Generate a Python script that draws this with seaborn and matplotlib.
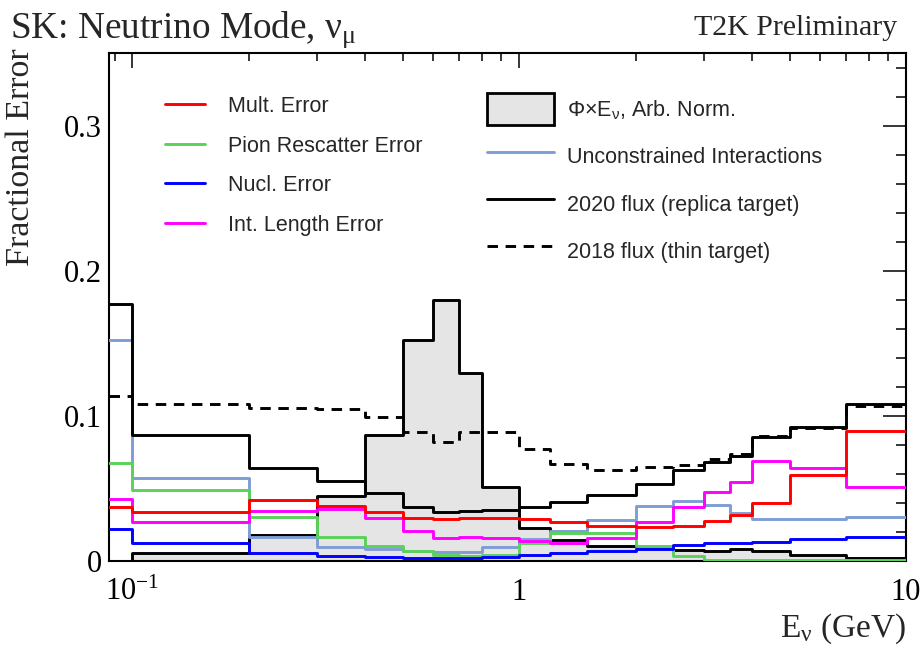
import numpy as np
import matplotlib
matplotlib.use("Agg")
import matplotlib.pyplot as plt
import seaborn as sns
from matplotlib.lines import Line2D
from matplotlib.patches import Patch
from matplotlib.ticker import FixedLocator, FixedFormatter, NullFormatter

# Energy binning (GeV); the first bin starts at 0
bin_edges = [0.0, 0.1, 0.2, 0.3, 0.4, 0.5, 0.6, 0.7, 0.8, 1.0, 1.2, 1.5,
             2.0, 2.5, 3.0, 3.5, 4.0, 5.0, 7.0, 10.0]

# Flux shape (Phi x E_nu, arbitrary normalisation)
flux_shape = [0.0, 0.0053, 0.018, 0.045, 0.0866, 0.152, 0.18, 0.1294, 0.0507,
              0.0228, 0.0145, 0.0102, 0.0095, 0.0073, 0.0071, 0.0081, 0.0071,
              0.0041, 0.0018]

# Fractional errors per bin
mult_err = [0.037, 0.0336, 0.0418, 0.038, 0.0336, 0.0294, 0.029, 0.0294, 0.0294,
            0.0288, 0.0271, 0.0241, 0.0232, 0.0244, 0.0274, 0.0317, 0.0402,
            0.0593, 0.0899]
pion_err = [0.0678, 0.0487, 0.0301, 0.0168, 0.0103, 0.0071, 0.0041, 0.0034, 0.004,
            0.0126, 0.0195, 0.0195, 0.0106, 0.0034, 0.0006, 0.0005, 0.0005,
            0.0005, 0.0005]
nucl_err = [0.0221, 0.0126, 0.0053, 0.0037, 0.003, 0.0023, 0.0018, 0.0023, 0.0027,
            0.0041, 0.0053, 0.0069, 0.0081, 0.011, 0.0124, 0.0126, 0.0129,
            0.015, 0.0168]
intlen_err = [0.0428, 0.0269, 0.0345, 0.0359, 0.0299, 0.0209, 0.0159, 0.0168, 0.016,
              0.0138, 0.0126, 0.0156, 0.0271, 0.037, 0.0474, 0.0547, 0.069,
              0.0639, 0.0508]
unconstr_err = [0.152, 0.057, 0.0168, 0.0096, 0.0085, 0.0068, 0.0064, 0.0064, 0.0094,
                0.0152, 0.0207, 0.0283, 0.0379, 0.041, 0.0386, 0.0333, 0.029,
                0.029, 0.0306]
flux2020_err = [0.177, 0.0869, 0.0639, 0.0554, 0.0467, 0.037, 0.034, 0.0345, 0.0352,
                0.0375, 0.0409, 0.0455, 0.0531, 0.0628, 0.0683, 0.0724, 0.0857,
                0.0926, 0.1085]
flux2018_err = [0.1138, 0.1085, 0.1057, 0.1046, 0.0995, 0.0892, 0.0818, 0.0887, 0.0887,
                0.077, 0.0667, 0.0628, 0.065, 0.0659, 0.0701, 0.074, 0.086,
                0.0913, 0.1071]

x_ticks = [0.1, 1.0, 10.0]
x_tick_labels = [r"$\mathrm{10^{-1}}$", "1", "10"]
y_ticks = [0.0, 0.1, 0.2, 0.3]
y_tick_labels = ["0", "0.1", "0.2", "0.3"]

sns.set_theme(style="white")
plt.rcParams["font.family"] = ["Liberation Serif", "DejaVu Serif"]
plt.rcParams["mathtext.fontset"] = "custom"
plt.rcParams["mathtext.rm"] = "Liberation Serif"
plt.rcParams["mathtext.it"] = "Liberation Serif:italic"
plt.rcParams["mathtext.sf"] = "Liberation Sans"

W, H = 923, 649
fig = plt.figure(figsize=(W / 100, H / 100), dpi=100)
L, R, T, B = 109, 906, 53, 561
ax = fig.add_axes([L / W, 1 - B / H, (R - L) / W, (B - T) / H])
ax.set_xscale("log")
x_lo, x_hi = 0.087, 10.0
ax.set_xlim(x_lo, x_hi)
ax.set_ylim(0, 0.35)

xs = np.clip(np.asarray(bin_edges), x_lo, None)


def steps(vals):
    return np.append(vals, vals[-1])


GRAY = "#e5e5e5"
RED = "#ff0000"
GREEN = "#5ad25a"
BLUE = "#0000ff"
MAGENTA = "#ff00ff"
BLUEGRAY = "#7f9dd6"
LW = 2.1
DASH = [3.6, 2.6]

# Flux shape as a filled histogram
ax.fill_between(xs, steps(flux_shape), step="post", color=GRAY, lw=0, zorder=1)
sns.lineplot(x=xs, y=steps(flux_shape), drawstyle="steps-post", color="black",
             lw=LW, estimator=None, sort=False, ax=ax, zorder=2)

for vals, col in [(unconstr_err, BLUEGRAY), (pion_err, GREEN), (nucl_err, BLUE),
                  (intlen_err, MAGENTA), (mult_err, RED)]:
    sns.lineplot(x=xs, y=steps(vals), drawstyle="steps-post", color=col, lw=LW,
                 estimator=None, sort=False, ax=ax, zorder=3)

sns.lineplot(x=xs, y=steps(flux2020_err), drawstyle="steps-post", color="black",
             lw=LW, estimator=None, sort=False, ax=ax, zorder=4)
l18 = sns.lineplot(x=xs, y=steps(flux2018_err), drawstyle="steps-post",
                   color="black", lw=LW, estimator=None, sort=False, ax=ax,
                   zorder=4).lines[-1]
l18.set_dashes(DASH)

# Axes styling
for sp in ax.spines.values():
    sp.set_linewidth(1.5)
    sp.set_color("black")
ax.xaxis.set_major_locator(FixedLocator(x_ticks))
ax.xaxis.set_major_formatter(FixedFormatter(x_tick_labels))
ax.xaxis.set_minor_locator(FixedLocator([0.09] + [i / 10 for i in range(2, 10)]
                                        + list(range(2, 10))))
ax.xaxis.set_minor_formatter(NullFormatter())
ax.yaxis.set_major_locator(FixedLocator(y_ticks))
ax.yaxis.set_major_formatter(FixedFormatter(y_tick_labels))
ax.yaxis.set_minor_locator(FixedLocator(np.arange(0, 0.35, 0.02)))
ax.tick_params(which="both", direction="in", top=True, right=True,
               colors="black", width=1.1, labelsize=22)
ax.tick_params(axis="y", which="major", length=16.5, pad=5)
ax.tick_params(axis="y", which="minor", length=7.5)
ax.tick_params(axis="x", which="major", length=11, pad=12)
ax.tick_params(axis="x", which="minor", length=5.5)

ax.set_xlabel(r"E$_{\mathrm{ν}}$ (GeV)", fontsize=24, loc="right")
ax.xaxis.set_label_coords(1.0, -(612 - B) / (B - T))
ax.set_ylabel("Fractional Error", fontsize=24.5, loc="top")
ax.yaxis.set_label_coords(-(L - 36) / (R - L), 1.0 + (T - 48) / (B - T))

fig.text(10 / W, 1 - 38 / H, r"SK: Neutrino Mode, ν$_{\mathrm{μ}}$", fontsize=26.8,
         ha="left", va="baseline")
fig.text(897 / W, 1 - 35 / H, "T2K Preliminary", fontsize=21.5,
         ha="right", va="baseline")

# Legends
sans = {"family": "Liberation Sans", "size": 15.5}
h_left = [Line2D([], [], color=c, lw=LW) for c in (RED, GREEN, BLUE, MAGENTA)]
lab_left = ["Mult. Error", "Pion Rescatter Error", "Nucl. Error",
            "Int. Length Error"]
leg1 = ax.legend(h_left, lab_left, prop=sans, frameon=False, loc="upper left",
                 bbox_to_anchor=((165 - L) / (R - L), 1 - (96 - T) / (B - T)),
                 borderaxespad=0, borderpad=0, handlelength=1.86,
                 handletextpad=1.05, labelspacing=0.86)
ax.add_artist(leg1)

h_right = [Patch(facecolor=GRAY, edgecolor="black", lw=2.0),
           Line2D([], [], color=BLUEGRAY, lw=LW),
           Line2D([], [], color="black", lw=LW),
           Line2D([], [], color="black", lw=LW, dashes=DASH)]
lab_right = [r"Φ×E$_{\mathsf{ν}}$, Arb. Norm.", "Unconstrained Interactions",
             "2020 flux (replica target)", "2018 flux (thin target)"]
ax.legend(h_right, lab_right, prop=sans, frameon=False, loc="upper left",
          bbox_to_anchor=((487 - L) / (R - L), 1 - (93 - T) / (B - T)),
          borderaxespad=0, borderpad=0, handlelength=3.1, handleheight=1.9,
          handletextpad=0.6, labelspacing=0.72)

fig.savefig("out.png", dpi=100)
